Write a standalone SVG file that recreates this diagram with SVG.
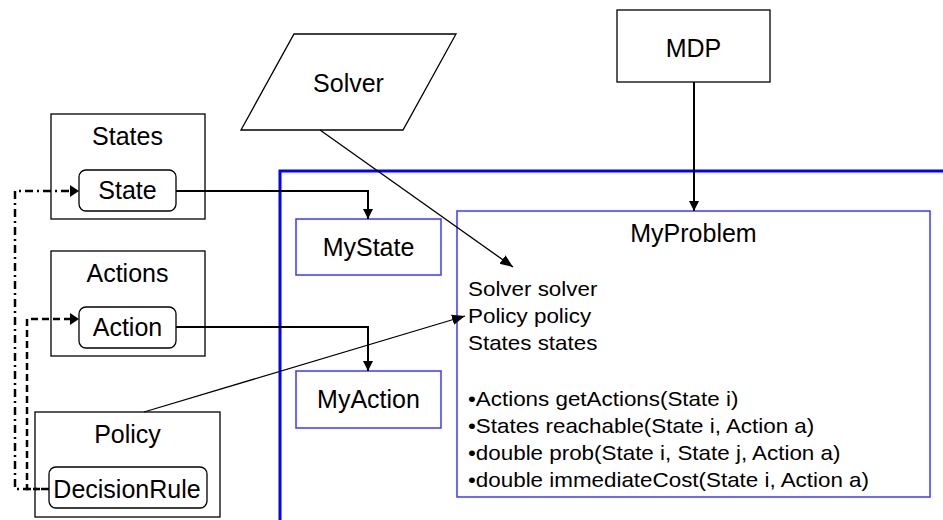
<svg xmlns="http://www.w3.org/2000/svg" width="943" height="520" viewBox="0 0 943 520">
<style>
text{font-family:"Liberation Sans",Arial,sans-serif;fill:#000}
.lbl{font-size:25px;text-anchor:middle}
.body{font-size:20px}
.box{fill:#fff;stroke:#000;stroke-width:1.3}
.bbox{fill:#fff;stroke:#3a3aff;stroke-width:1.5}
.thick{fill:none;stroke:#000;stroke-width:2}
.thin{fill:none;stroke:#000;stroke-width:1.3}
.dd{fill:none;stroke:#000;stroke-width:2.5;stroke-dasharray:8 4 2 4}
.ds{fill:none;stroke:#000;stroke-width:2.5;stroke-dasharray:7 4}
</style>
<defs>
<marker id="ah" viewBox="0 0 10 10" refX="10" refY="5" markerWidth="10" markerHeight="10" markerUnits="userSpaceOnUse" orient="auto"><path d="M0,0 L10,5 L0,10 z" fill="#000"/></marker>
<marker id="ahs" viewBox="0 0 10 10" refX="10" refY="5" markerWidth="13" markerHeight="13" markerUnits="userSpaceOnUse" orient="auto"><path d="M0,1 L10,5 L0,9 z" fill="#000"/></marker>
</defs>
<path d="M280,520 V171 H943" fill="none" stroke="#0000ff" stroke-width="3"/>
<g id="solver"><polygon class="box" points="294,34 456,34 403,130 241,130"/><text class="lbl" x="348.5" y="92">Solver</text></g>
<g id="mdp"><rect class="box" x="617" y="10" width="153" height="72"/><text class="lbl" x="693.5" y="57">MDP</text></g>
<g id="states"><rect class="box" x="51" y="114" width="154" height="105"/><text class="lbl" x="127.5" y="145">States</text>
<g id="state"><rect class="box" x="79" y="170" width="97" height="41" rx="7"/><text class="lbl" x="127.5" y="199">State</text></g></g>
<g id="actions"><rect class="box" x="51" y="251" width="154" height="105"/><text class="lbl" x="127.5" y="282">Actions</text>
<g id="action"><rect class="box" x="79" y="307" width="97" height="41" rx="7"/><text class="lbl" x="127.5" y="336">Action</text></g></g>
<g id="policy"><rect class="box" x="35" y="412" width="185" height="105"/><text class="lbl" x="127.5" y="443">Policy</text>
<g id="decisionrule"><rect class="box" x="49" y="467" width="158" height="41" rx="7"/><text class="lbl" x="127" y="498">DecisionRule</text></g></g>
<g id="mystate"><rect class="bbox" x="296" y="219" width="145" height="56"/><text class="lbl" x="368.5" y="256">MyState</text></g>
<g id="myaction"><rect class="bbox" x="296" y="371" width="145" height="57"/><text class="lbl" x="368.5" y="408">MyAction</text></g>
<g id="myproblem"><rect class="bbox" x="457" y="211" width="473" height="286"/><text class="lbl" x="693.5" y="242">MyProblem</text>
<g class="body" transform="translate(468,0) scale(1.12,1)">
<text x="0" y="296">Solver solver</text>
<text x="0" y="323">Policy policy</text>
<text x="0" y="350">States states</text>
<text x="0" y="406">•Actions getActions(State i)</text>
<text x="0" y="433">•States reachable(State i, Action a)</text>
<text x="0" y="460">•double prob(State i, State j, Action a)</text>
<text x="0" y="487">•double immediateCost(State i, Action a)</text>
</g></g>
<g id="connectors">
<path class="thick" d="M176,191 H368 V219" marker-end="url(#ah)"/>
<path class="thick" d="M176,327 H368 V371" marker-end="url(#ah)"/>
<path class="thick" d="M694,82 V211" marker-end="url(#ah)"/>
<path class="thin" d="M320,130 L513,267" marker-end="url(#ahs)"/>
<path class="thin" d="M144,412 L465,316" marker-end="url(#ahs)"/>
<path class="dd" d="M49,489 H15 V191 H70"/>
<path class="ds" d="M40,489 H27 V319 H70"/>
<path d="M70,185 L79,191 L70,197 z" fill="#000"/>
<path d="M70,313 L79,319 L70,325 z" fill="#000"/>
</g>
</svg>
